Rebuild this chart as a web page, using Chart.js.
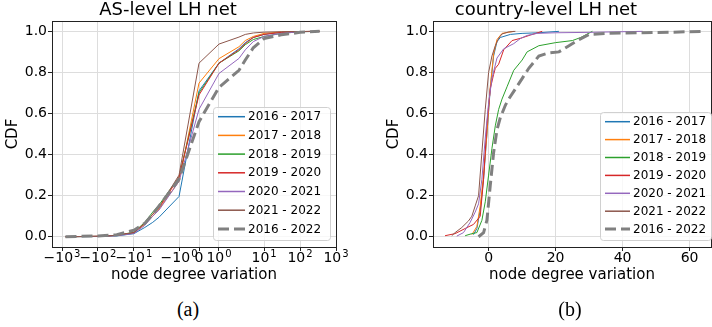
<!DOCTYPE html>
<html>
<head>
<meta charset="utf-8">
<script src="https://cdn.jsdelivr.net/npm/chart.js@4.4.0/dist/chart.umd.min.js"></script>
<style>
  html, body { margin: 0; padding: 0; background: #fff; }
  #wrap { position: relative; width: 712px; height: 327px; overflow: hidden; background: #fff; }
  canvas { position: absolute; top: 0; }
  .cap { position: absolute; top: 297px; width: 60px; text-align: center;
         font: 20px "Liberation Serif", "DejaVu Serif", serif; line-height: 24px; color: #000; }
</style>
</head>
<body>
<div id="wrap">
  <canvas id="asChart" width="388" height="290" style="left:0"></canvas>
  <canvas id="cyChart" width="382" height="290" style="left:381px"></canvas>
  <div class="cap" style="left:158px">(a)</div>
  <div class="cap" style="left:540px">(b)</div>
</div>
<script>
// series names shared by both panels
const seriesLabels = ['2016 - 2017', '2017 - 2018', '2018 - 2019', '2019 - 2020', '2020 - 2021', '2021 - 2022', '2016 - 2022'];
const seriesColors = ['#1f77b4', '#ff7f0e', '#2ca02c', '#d62728', '#9467bd', '#8c564b', '#808080'];

// (a) AS-level, symlog x axis
const asX = [-800, -100, -30, -10, -5, -3, -2, -1, 0, 1, 2, 3, 5, 10, 30, 100, 350];
const as2016 = [0, 0.001, 0.004, 0.015, 0.045, 0.07, 0.095, 0.196, 0.71, 0.845, 0.915, 0.945, 0.97, 0.985, 0.995, 0.999, 1];
const as2017 = [0, 0.002, 0.006, 0.02, 0.06, 0.10, 0.135, 0.27, 0.748, 0.867, 0.925, 0.955, 0.975, 0.99, 0.997, 0.999, 1];
const as2018 = [0, 0.002, 0.007, 0.022, 0.07, 0.12, 0.155, 0.29, 0.70, 0.845, 0.905, 0.935, 0.96, 0.975, 0.99, 0.998, 1];
const as2019 = [0, 0.002, 0.007, 0.02, 0.065, 0.11, 0.14, 0.29, 0.69, 0.845, 0.91, 0.94, 0.97, 0.985, 0.995, 0.999, 1];
const as2020 = [0, 0.002, 0.005, 0.016, 0.055, 0.10, 0.13, 0.27, 0.62, 0.795, 0.868, 0.91, 0.95, 0.975, 0.99, 0.998, 1];
const as2021 = [0, 0.002, 0.007, 0.02, 0.065, 0.11, 0.145, 0.30, 0.845, 0.938, 0.972, 0.985, 0.992, 0.996, 0.998, 0.999, 1];
const asAll  = [0, 0.004, 0.01, 0.032, 0.065, 0.11, 0.15, 0.28, 0.56, 0.727, 0.81, 0.86, 0.92, 0.965, 0.983, 0.995, 1];
const asTicks = [-1000, -100, -10, -1, 0, 1, 10, 100, 1000];
// tick label = base + superscript exponent
const asTickBase = ['\u221210', '\u221210', '\u221210', '\u221210', '0', '10', '10', '10', '10'];
const asTickExp = ['3', '2', '1', '0', '', '0', '1', '2', '3'];

// (b) country-level, linear x axis
const cy2016X = [-4.5, -3.5, -2.5, -1.5, -0.5, 0.5, 1.5, 2.5, 3.5, 6.5, 10, 15, 21];
const cy2016Y = [0.01, 0.04, 0.13, 0.28, 0.5, 0.72, 0.88, 0.95, 0.97, 0.985, 0.99, 0.993, 1.0];
const cy2017X = [-5, -3.5, -2.5, -1.5, -0.5, 0.5, 1.5, 2.5, 4, 7.5];
const cy2017Y = [0.01, 0.05, 0.15, 0.3, 0.5, 0.73, 0.89, 0.96, 0.99, 1.0];
const cy2018X = [-7, -5, -3.5, -2, -1, 0, 1, 2, 3, 4, 5.5, 7.5, 10, 11.5, 15, 20, 25, 27.5, 31];
const cy2018Y = [0.005, 0.015, 0.02, 0.08, 0.17, 0.30, 0.43, 0.54, 0.62, 0.67, 0.73, 0.81, 0.86, 0.90, 0.93, 0.945, 0.955, 0.97, 1.0];
const cy2019X = [-13, -10, -7, -4.5, -2.5, -1.5, -0.5, 0.5, 1.5, 2, 3, 4.5, 7, 9.5, 12.5, 16];
const cy2019Y = [0.005, 0.015, 0.04, 0.06, 0.10, 0.28, 0.55, 0.72, 0.79, 0.82, 0.84, 0.91, 0.955, 0.966, 0.982, 1.0];
const cy2020X = [-9.5, -7.5, -5.5, -4, -3, -2, -1, 0, 1, 2.5, 4.5, 7.5, 9.5, 11.5, 14.5, 20, 30, 46];
const cy2020Y = [0.003, 0.02, 0.07, 0.12, 0.16, 0.28, 0.48, 0.65, 0.77, 0.87, 0.915, 0.94, 0.965, 0.98, 0.99, 0.993, 0.995, 1.0];
const cy2021X = [-11, -10, -8, -6, -5, -4, -3, -2, -1, 0, 1, 2, 3, 4, 6, 8];
const cy2021Y = [0.005, 0.02, 0.045, 0.077, 0.1, 0.15, 0.2, 0.41, 0.62, 0.80, 0.88, 0.93, 0.966, 0.987, 0.997, 1.0];
const cyAllX = [-3, -1.5, -0.5, 0.5, 1.5, 2.5, 3.5, 5, 6, 8, 10, 12, 14, 15, 18, 21, 24, 27, 30, 35, 45, 55, 64];
const cyAllY = [0, 0.02, 0.08, 0.25, 0.41, 0.52, 0.58, 0.64, 0.67, 0.72, 0.77, 0.82, 0.86, 0.88, 0.895, 0.90, 0.93, 0.96, 0.985, 0.99, 0.993, 0.996, 1.0];
const cyTicks = [0, 20, 40, 60];

const yTicks = [0, 0.2, 0.4, 0.6, 0.8, 1.0];

const FONT = 'DejaVu Sans';
Chart.defaults.font.family = FONT;
Chart.defaults.color = '#000';

// matplotlib-style symlog axis (base 10, linthresh 2, linscale 1)
class SymlogScale extends Chart.LinearScale {
  _t(v) {
    const c = 2, a = 1 / (1 - 1 / 10);
    const x = Math.abs(v);
    return x <= c ? v * a : Math.sign(v) * c * (a + Math.log10(x / c));
  }
  _tinv(t) {
    const c = 2, a = 1 / (1 - 1 / 10);
    const x = Math.abs(t);
    return x <= c * a ? t / a : Math.sign(t) * c * Math.pow(10, x / c - a);
  }
  getPixelForValue(value) {
    const t0 = this._t(this.min), t1 = this._t(this.max);
    return this.getPixelForDecimal((this._t(value) - t0) / (t1 - t0));
  }
  getValueForPixel(pixel) {
    const t0 = this._t(this.min), t1 = this._t(this.max);
    return this._tinv(t0 + this.getDecimalForPixel(pixel) * (t1 - t0));
  }
}
SymlogScale.id = 'symlog';
SymlogScale.defaults = Chart.LinearScale.defaults;
Chart.register(SymlogScale);

// axes box on all four sides
const frame = {
  id: 'frame',
  beforeDatasetsDraw(chart) {
    const {ctx, chartArea: a} = chart;
    ctx.save();
    ctx.strokeStyle = '#222';
    ctx.lineWidth = 1;
    ctx.strokeRect(Math.round(a.left) + 0.5, Math.round(a.top) + 0.5,
                   Math.round(a.right - a.left), Math.round(a.bottom - a.top));
    ctx.restore();
  }
};

// power-of-ten tick labels with a raised exponent, placed by the x scale
const supTicks = {
  id: 'supTicks',
  afterDraw(chart) {
    const {ctx} = chart;
    const s = chart.scales.x;
    const baseY = s.top + 15;
    ctx.save();
    ctx.fillStyle = '#000';
    ctx.textBaseline = 'alphabetic';
    ctx.textAlign = 'left';
    s.ticks.forEach((t, i) => {
      const px = s.getPixelForValue(t.value);
      const base = asTickBase[i], exp = asTickExp[i];
      ctx.font = '14px "' + FONT + '"';
      const wb = ctx.measureText(base).width;
      ctx.font = '10px "' + FONT + '"';
      const we = exp ? ctx.measureText(exp).width + 1 : 0;
      const x0 = px - (wb + we) / 2;
      ctx.font = '14px "' + FONT + '"';
      ctx.fillText(base, x0, baseY);
      if (exp) {
        ctx.font = '10px "' + FONT + '"';
        ctx.fillText(exp, x0 + wb + 1, baseY - 5.5);
      }
    });
    ctx.restore();
  }
};

// legend box in the lower right corner of the plot
const boxLegend = {
  id: 'boxLegend',
  afterDraw(chart, args, o) {
    const {ctx, chartArea: a} = chart;
    const x = Math.round(a.right - o.right - o.width);
    const y = Math.round(a.bottom - o.bottom - o.height);
    ctx.save();
    ctx.beginPath();
    if (ctx.roundRect) ctx.roundRect(x + 0.5, y + 0.5, o.width, o.height, 3);
    else ctx.rect(x + 0.5, y + 0.5, o.width, o.height);
    ctx.fillStyle = 'rgba(255,255,255,0.8)';
    ctx.fill();
    ctx.strokeStyle = '#d0d0d0';
    ctx.lineWidth = 1;
    ctx.stroke();
    ctx.font = '12px "' + FONT + '"';
    ctx.textBaseline = 'middle';
    chart.data.datasets.forEach((ds, i) => {
      const cy = y + o.first + i * o.step;
      ctx.beginPath();
      ctx.setLineDash(ds.borderDash || []);
      ctx.strokeStyle = ds.borderColor;
      ctx.lineWidth = ds.borderWidth + (ds.borderDash ? 0 : 0.5);
      ctx.moveTo(x + 5, cy);
      ctx.lineTo(x + 5 + o.handle, cy);
      ctx.stroke();
      ctx.setLineDash([]);
      ctx.fillStyle = '#000';
      ctx.fillText(ds.label, x + o.text, cy + 0.5);
    });
    ctx.restore();
  }
};

function makeDataset(i, xs, ys) {
  const last = i === seriesLabels.length - 1;
  return {
    label: seriesLabels[i],
    data: xs.map((x, k) => ({x: x, y: ys[k]})),
    borderColor: seriesColors[i],
    borderWidth: last ? 3 : 1,
    borderDash: last ? [11, 5] : undefined,
    pointRadius: 0,
    tension: 0,
    fill: false,
    order: seriesLabels.length - i
  };
}

function yScale() {
  return {
    min: -0.05, max: 1.05,
    afterBuildTicks: s => { s.ticks = yTicks.map(v => ({value: v})); },
    afterFit: s => { s.width = 52; },
    ticks: { font: {size: 14}, color: '#000', padding: 1, callback: v => v.toFixed(1) },
    grid: { color: '#dddddd', tickColor: '#222', tickLength: 4 },
    border: { display: false },
    title: { display: true, text: 'CDF', font: {size: 15}, padding: {top: 4, bottom: 0} }
  };
}

function xTitle() {
  return { display: true, text: 'node degree variation', font: {size: 15}, padding: {top: 0, bottom: 6} };
}

function titleOpts(text) {
  return { display: true, text: text, color: '#000', font: {size: 18, weight: 'normal', lineHeight: 1.17}, padding: {top: 0, bottom: 0} };
}

new Chart(document.getElementById('asChart'), {
  type: 'line',
  data: {
    datasets: [
      makeDataset(0, asX, as2016), makeDataset(1, asX, as2017), makeDataset(2, asX, as2018),
      makeDataset(3, asX, as2019), makeDataset(4, asX, as2020), makeDataset(5, asX, as2021),
      makeDataset(6, asX, asAll)
    ]
  },
  options: {
    responsive: false, animation: false, events: [],
    layout: { padding: {left: 0, right: 52, top: 0, bottom: 0} },
    plugins: {
      legend: { display: false }, tooltip: { enabled: false },
      title: titleOpts('AS-level LH net'),
      boxLegend: { width: 117, height: 133, right: 6, bottom: 7, first: 9.7, step: 18.7, handle: 27, text: 35 }
    },
    scales: {
      x: {
        type: 'symlog', min: -1900, max: 1000,
        afterBuildTicks: s => { s.ticks = asTicks.map(v => ({value: v})); },
        afterFit: s => { s.height = 43; },
        ticks: { display: false, autoSkip: false, maxRotation: 0, minRotation: 0 },
        grid: { color: '#dddddd', tickColor: '#222', tickLength: 4 },
        border: { display: false },
        title: xTitle()
      },
      y: yScale()
    }
  },
  plugins: [frame, boxLegend, supTicks]
});

new Chart(document.getElementById('cyChart'), {
  type: 'line',
  data: {
    datasets: [
      makeDataset(0, cy2016X, cy2016Y), makeDataset(1, cy2017X, cy2017Y), makeDataset(2, cy2018X, cy2018Y),
      makeDataset(3, cy2019X, cy2019Y), makeDataset(4, cy2020X, cy2020Y), makeDataset(5, cy2021X, cy2021Y),
      makeDataset(6, cyAllX, cyAllY)
    ]
  },
  options: {
    responsive: false, animation: false, events: [],
    layout: { padding: {left: 0, right: 52, top: 0, bottom: 0} },
    plugins: {
      legend: { display: false }, tooltip: { enabled: false },
      title: titleOpts('country-level LH net'),
      boxLegend: { width: 111, height: 128, right: 0, bottom: 7, first: 9.7, step: 17.9, handle: 25, text: 33 }
    },
    scales: {
      x: {
        type: 'linear', min: -16.6, max: 66.4,
        afterBuildTicks: s => { s.ticks = cyTicks.map(v => ({value: v})); },
        afterFit: s => { s.height = 43; },
        ticks: { font: {size: 14}, color: '#000', padding: -1, autoSkip: false, maxRotation: 0, minRotation: 0,
                 callback: v => String(v) },
        grid: { color: '#dddddd', tickColor: '#222', tickLength: 4 },
        border: { display: false },
        title: xTitle()
      },
      y: yScale()
    }
  },
  plugins: [frame, boxLegend]
});
</script>
</body>
</html>
